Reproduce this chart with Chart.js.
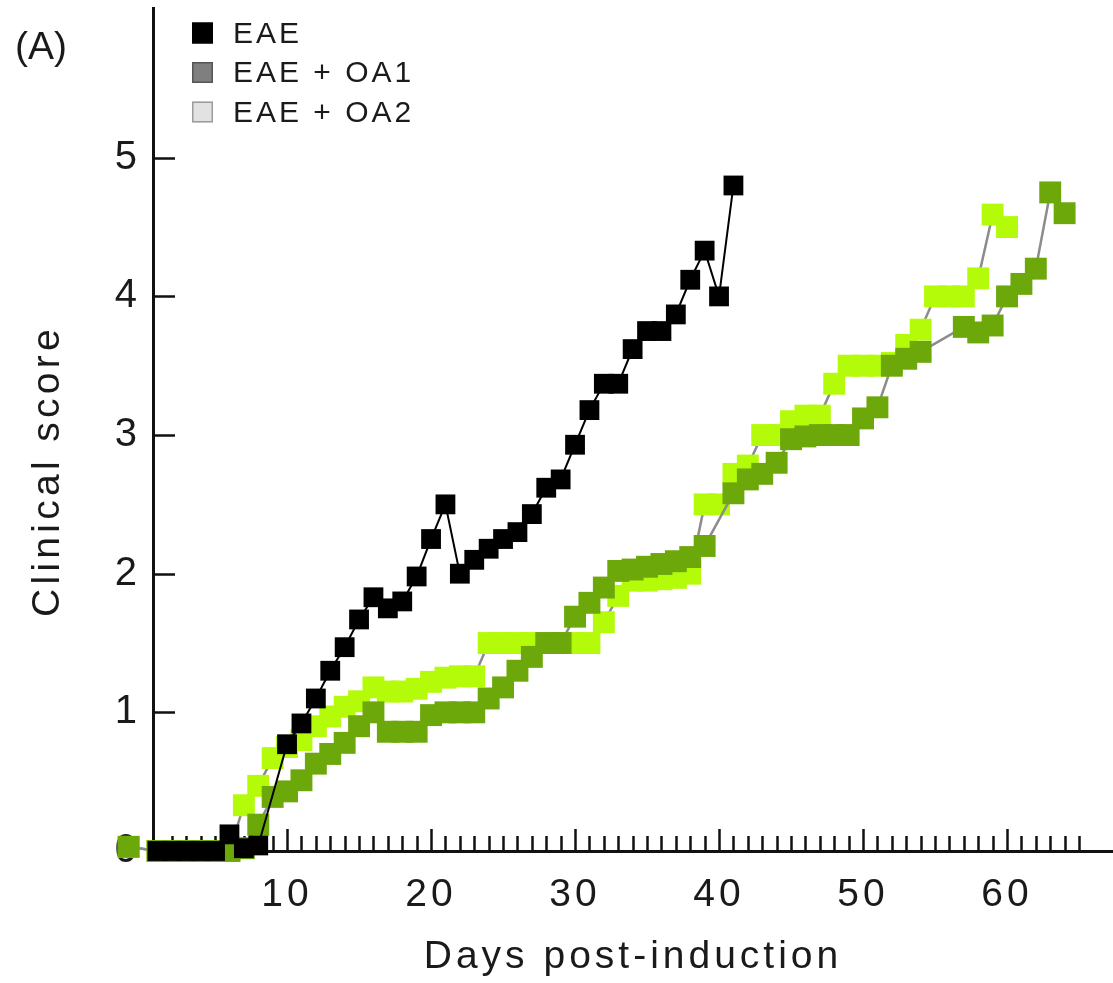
<!DOCTYPE html>
<html>
<head>
<meta charset="utf-8">
<title>Clinical score</title>
<script src="https://cdn.jsdelivr.net/npm/chart.js@4.4.1/dist/chart.umd.min.js"></script>
<style>
  html, body { margin: 0; padding: 0; background: #fff; }
  #wrap { width: 1113px; height: 983px; }
</style>
</head>
<body>
<div id="wrap"><canvas id="scoreChart" width="1113" height="983"></canvas></div>
<script>
// Tage nach Induktion und Score pro Gruppe
const eaeDays = [1, 2, 3, 4, 5, 6, 7, 8, 10, 11, 12, 13, 14, 15, 16, 17, 18, 19, 20,
  21, 22, 23, 24, 25, 26, 27, 28, 29, 30, 31, 32, 33, 34, 35, 36, 37, 38, 39, 40, 41];
const eaeScore = [0, 0, 0, 0, 0, 0.12, 0.02, 0.04, 0.77, 0.92, 1.1, 1.3, 1.47, 1.67, 1.83, 1.75, 1.8, 1.98, 2.25,
  2.5, 2.0, 2.1, 2.18, 2.25, 2.3, 2.43, 2.62, 2.68, 2.93, 3.18, 3.37, 3.37, 3.62, 3.75, 3.75, 3.87, 4.12, 4.33, 4.0, 4.8];

const oa1Days = [-1, 1, 2, 3, 4, 5, 6, 7, 8, 9, 10, 11, 12, 13, 14, 15, 16, 17, 18, 19, 20,
  21, 22, 23, 24, 25, 26, 27, 28, 29, 30, 31, 32, 33, 34, 35, 36, 37, 38, 39,
  41, 42, 43, 44, 45, 46, 47, 48, 49, 50, 51, 52, 53, 54, 57, 58, 59, 60, 61, 62, 63, 64];
const oa1Score = [0.03, 0, 0, 0, 0, 0, 0, 0.02, 0.19, 0.39, 0.43, 0.51, 0.63, 0.7, 0.78, 0.9, 1.0, 0.86, 0.86, 0.86, 0.98,
  1.0, 1.0, 1.0, 1.1, 1.18, 1.3, 1.4, 1.5, 1.5, 1.69, 1.79, 1.9, 2.02, 2.03, 2.05, 2.07, 2.09, 2.12, 2.2,
  2.58, 2.68, 2.72, 2.8, 2.97, 2.99, 3.0, 3.0, 3.0, 3.12, 3.2, 3.5, 3.55, 3.6, 3.78, 3.74, 3.79, 4.0, 4.09, 4.2, 4.75, 4.6];

const oa2Days = [-1, 1, 2, 3, 4, 5, 6, 7, 8, 9, 10, 11, 12, 13, 14, 15, 16, 17, 18, 19, 20,
  21, 22, 23, 24, 25, 26, 27, 28, 29, 30, 31, 32, 33, 34, 35, 36, 37, 38, 39, 40,
  41, 42, 43, 44, 45, 46, 47, 48, 49, 50, 51, 52, 53, 54, 55, 56, 57, 58, 59, 60];
const oa2Score = [0.03, 0, 0, 0, 0, 0, 0, 0.33, 0.47, 0.67, 0.75, 0.8, 0.9, 0.97, 1.04, 1.08, 1.18, 1.15, 1.15, 1.17, 1.22,
  1.25, 1.26, 1.26, 1.5, 1.5, 1.5, 1.5, 1.5, 1.5, 1.5, 1.5, 1.65, 1.84, 1.95, 1.95, 1.96, 1.97, 2.0, 2.5, 2.5,
  2.72, 2.78, 3.0, 3.0, 3.1, 3.14, 3.14, 3.37, 3.5, 3.5, 3.5, 3.52, 3.65, 3.76, 4.0, 4.0, 4.0, 4.13, 4.59, 4.5];

const seriesNames = ['EAE', 'EAE + OA1', 'EAE + OA2'];
const xTickLabels = [10, 20, 30, 40, 50, 60];
const yTickLabels = [0, 1, 2, 3, 4, 5];
const minorTickFrom = 2, minorTickTo = 65;

// Legende im Original grau, Punkte im Plot grün
const legendFill = ['#000000', '#7f7f7f', '#e2e2e2'];
const legendStroke = ['#000000', '#555555', '#9c9c9c'];

const FONT = '"Liberation Sans", Arial, Helvetica, sans-serif';
const TEXT = '#1a1a1a';

const toPoints = (days, scores) => days.map((d, i) => ({ x: d, y: scores[i] }));

// Schrift im Original ist breiter gesetzt -> etwas Laufweite
const spacing = {
  id: 'spacing',
  beforeDraw(chart) {
    chart.ctx.letterSpacing = '4px';
  }
};

// kurze Striche nach innen an beiden Achsen
const innerTicks = {
  id: 'innerTicks',
  beforeDatasetsDraw(chart) {
    const { ctx, scales: { x, y } } = chart;
    ctx.save();
    ctx.strokeStyle = '#111';
    ctx.lineWidth = 2.5;
    ctx.beginPath();
    for (let d = minorTickFrom; d <= minorTickTo; d++) {
      const px = Math.round(x.getPixelForValue(d)) + 0.5;
      const len = d % 10 === 0 ? 22 : 15;
      ctx.moveTo(px, y.bottom);
      ctx.lineTo(px, y.bottom - len);
    }
    yTickLabels.forEach(v => {
      if (v === 0) return;
      const py = Math.round(y.getPixelForValue(v)) + 0.5;
      ctx.moveTo(x.left, py);
      ctx.lineTo(x.left + 22, py);
    });
    ctx.stroke();
    ctx.restore();
  }
};

// (A), y-Titel und Legende
const extraText = {
  id: 'extraText',
  afterDraw(chart) {
    const ctx = chart.ctx;
    ctx.save();
    ctx.fillStyle = TEXT;
    ctx.textBaseline = 'alphabetic';
    ctx.letterSpacing = '0px';
    ctx.font = `39px ${FONT}`;
    ctx.fillText('(A)', 15, 59);

    ctx.save();
    ctx.translate(59, 471);
    ctx.rotate(-Math.PI / 2);
    ctx.font = `39px ${FONT}`;
    ctx.letterSpacing = '4.3px';
    ctx.textAlign = 'center';
    ctx.fillText('Clinical score', 0, 0);
    ctx.restore();

    ctx.letterSpacing = '3px';
    chart.data.datasets.forEach((ds, i) => {
      const cy = 33 + i * 39.5;
      ctx.fillStyle = legendFill[i];
      ctx.fillRect(192, cy - 10.5, 21, 21);
      ctx.strokeStyle = legendStroke[i];
      ctx.lineWidth = 1.5;
      ctx.strokeRect(192.75, cy - 9.75, 19.5, 19.5);
      ctx.fillStyle = TEXT;
      ctx.font = `30px ${FONT}`;
      ctx.textBaseline = 'middle';
      ctx.fillText(ds.label, 233, cy + 1.5);
    });
    ctx.restore();
  }
};

const ctx = document.getElementById('scoreChart').getContext('2d');

const pointDefaults = {
  pointStyle: 'rect',
  pointBorderWidth: 0,
  pointHoverRadius: 32, // damit auch der Punkt links der Achse gezeichnet wird
  tension: 0,
  clip: false
};

new Chart(ctx, {
  type: 'line',
  data: {
    datasets: [
      {
        ...pointDefaults,
        label: seriesNames[0],
        data: toPoints(eaeDays, eaeScore),
        borderColor: '#000',
        borderWidth: 2,
        pointRadius: 14,
        pointBackgroundColor: '#000'
      },
      {
        ...pointDefaults,
        label: seriesNames[1],
        data: toPoints(oa1Days, oa1Score),
        borderColor: '#8c8c8c',
        borderWidth: 2.5,
        pointRadius: 15.5,
        pointBackgroundColor: '#6da80b'
      },
      {
        ...pointDefaults,
        label: seriesNames[2],
        data: toPoints(oa2Days, oa2Score),
        borderColor: '#8c8c8c',
        borderWidth: 2.5,
        pointRadius: 15.5,
        pointBackgroundColor: '#b4fb0a'
      }
    ]
  },
  options: {
    responsive: false,
    animation: false,
    events: [],
    layout: { autoPadding: false, padding: { top: 8, right: 0, bottom: 0, left: 0 } },
    plugins: {
      legend: { display: false },
      tooltip: { enabled: false }
    },
    scales: {
      x: {
        type: 'linear',
        min: 0.69,
        max: 67.36,
        afterFit: s => {
          s.height = 132;
          s.paddingLeft = 0;
          s.paddingRight = 0;
        },
        afterBuildTicks: s => { s.ticks = xTickLabels.map(v => ({ value: v })); },
        border: { color: '#111', width: 3 },
        grid: { display: false, drawTicks: false },
        ticks: {
          padding: 21,
          color: TEXT,
          font: { family: FONT, size: 39 },
          maxRotation: 0,
          autoSkip: false
        },
        title: {
          display: true,
          text: 'Days post-induction',
          color: TEXT,
          font: { family: FONT, size: 39 },
          padding: { top: 0, bottom: 2 }
        }
      },
      y: {
        min: 0,
        max: 6.08,
        afterFit: s => {
          s.width = 153;
          s.paddingTop = 0;
          s.paddingBottom = 0;
        },
        afterBuildTicks: s => { s.ticks = yTickLabels.map(v => ({ value: v })); },
        border: { color: '#111', width: 3 },
        grid: { display: false, drawTicks: false },
        ticks: {
          padding: 12,
          color: TEXT,
          font: { family: FONT, size: 40 }
        }
      }
    }
  },
  plugins: [spacing, innerTicks, extraText]
});
</script>
</body>
</html>
